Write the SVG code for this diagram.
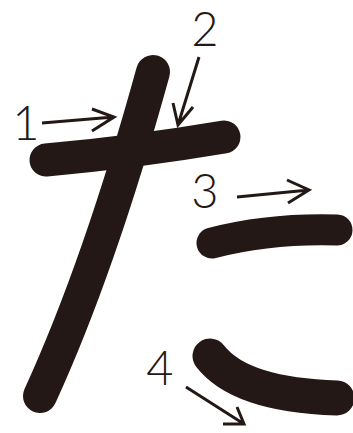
<svg xmlns="http://www.w3.org/2000/svg" width="353" height="433" viewBox="0 0 353 433">
<style>
.stroke{fill:none;stroke:#231815;stroke-linecap:round;stroke-linejoin:round}
.arrow{fill:none;stroke:#231815;stroke-width:3;stroke-linecap:butt;stroke-linejoin:miter}
.num{font-family:Lato,"Noto Sans","Liberation Sans",sans-serif;font-weight:300;font-size:47px;fill:#231815;text-anchor:middle}
</style>
<rect width="353" height="433" fill="#ffffff"/>
<g id="stroke1"><path class="stroke" stroke-width="33" d="M46,160 Q135,152 224,137"/></g>
<g id="stroke2"><path class="stroke" stroke-width="34" d="M153,72 Q99.5,266 40,396"/></g>
<g id="stroke3"><path class="stroke" stroke-width="31" d="M212,243 Q270,228 337,230"/></g>
<g id="stroke4"><path class="stroke" stroke-width="35" d="M210,356 Q240,395 337,398"/></g>
<g id="labels">
<text class="num" x="26" y="140">1</text>
<text class="num" x="205" y="46">2</text>
<text class="num" x="205" y="208">3</text>
<text class="num" x="160" y="385">4</text>
</g>
<g id="connectors">
<path class="arrow" d="M42,123 L114,117 M92,109 L114,117 L92,131"/>
<path class="arrow" d="M199,57 L178,125 M173,103 L178,125 L193,107"/>
<path class="arrow" d="M237,197 L309,190 M287,180 L309,190 L288,203"/>
<path class="arrow" d="M186,387 L244,424 M237,407 L244,424 L223,424"/>
</g>
</svg>
